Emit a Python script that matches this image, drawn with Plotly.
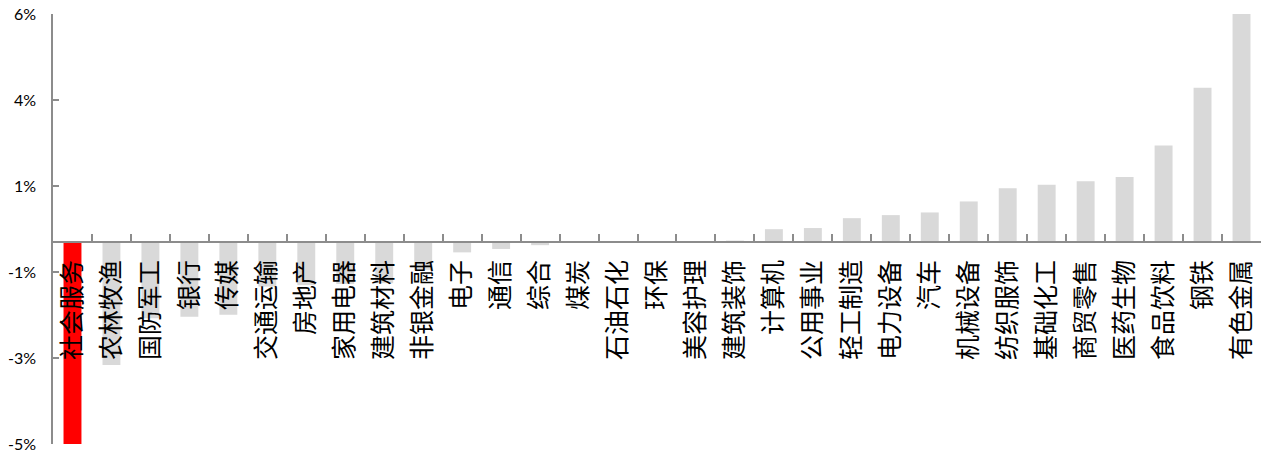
import plotly.graph_objects as go

categories = ["社会服务", "农林牧渔", "国防军工", "银行", "传媒", "交通运输", "房地产", "家用电器",
              "建筑材料", "非银金融", "电子", "通信", "综合", "煤炭", "石油石化", "环保", "美容护理",
              "建筑装饰", "计算机", "公用事业", "轻工制造", "电力设备", "汽车", "机械设备", "纺织服饰",
              "基础化工", "商贸零售", "医药生物", "食品饮料", "钢铁", "有色金属"]
values = [-5.31, -3.23, -2.00, -1.96, -1.91, -1.17, -1.13, -1.10,
          -1.08, -0.73, -0.27, -0.18, -0.08, -0.01, 0.0, 0.0, 0.01,
          0.04, 0.34, 0.37, 0.63, 0.71, 0.78, 1.07, 1.42,
          1.51, 1.60, 1.71, 2.54, 4.06, 6.00]
y_tick_vals = [6.0, 3.738, 1.476, -0.786, -3.048, -5.31]
y_tick_text = ["6%", "4%", "1%", "-1%", "-3%", "-5%"]

highlight = "社会服务"
colors = ["#FF0000" if c == highlight else "#D9D9D9" for c in categories]

ymin, ymax = -5.31, 6.0
zero_pos = (0 - ymin) / (ymax - ymin)

fig = go.Figure(go.Bar(x=categories, y=values, marker=dict(color=colors, line=dict(width=0)),
                       hoverinfo="x+y"))

fig.update_layout(
    width=1263, height=455,
    margin=dict(l=53, r=2, t=14, b=11),
    plot_bgcolor="white", paper_bgcolor="white",
    bargap=0.54,
    showlegend=False,
    xaxis=dict(
        type="category",
        anchor="free", position=zero_pos,
        showline=True, linecolor="#8C8C8C", linewidth=1.5,
        ticks="inside", tickson="boundaries", ticklen=7, tickcolor="#8C8C8C", tickwidth=1.5,
        tickangle=-90,
        tickfont=dict(family="Noto Sans CJK SC", size=25, color="#000000"),
        ticklabelstandoff=7,
        showgrid=False, zeroline=False,
        range=[-0.5, len(categories) - 0.5],
    ),
    yaxis=dict(
        range=[ymin, ymax],
        tickvals=y_tick_vals, ticktext=y_tick_text,
        showline=True, linecolor="#8C8C8C", linewidth=1.5,
        ticks="inside", ticklen=6, tickcolor="#8C8C8C", tickwidth=1.5,
        tickfont=dict(family="Lato", size=16, color="#000000"),
        ticklabelstandoff=12,
        showgrid=False, zeroline=False,
    ),
)

fig.write_html("out.html")
